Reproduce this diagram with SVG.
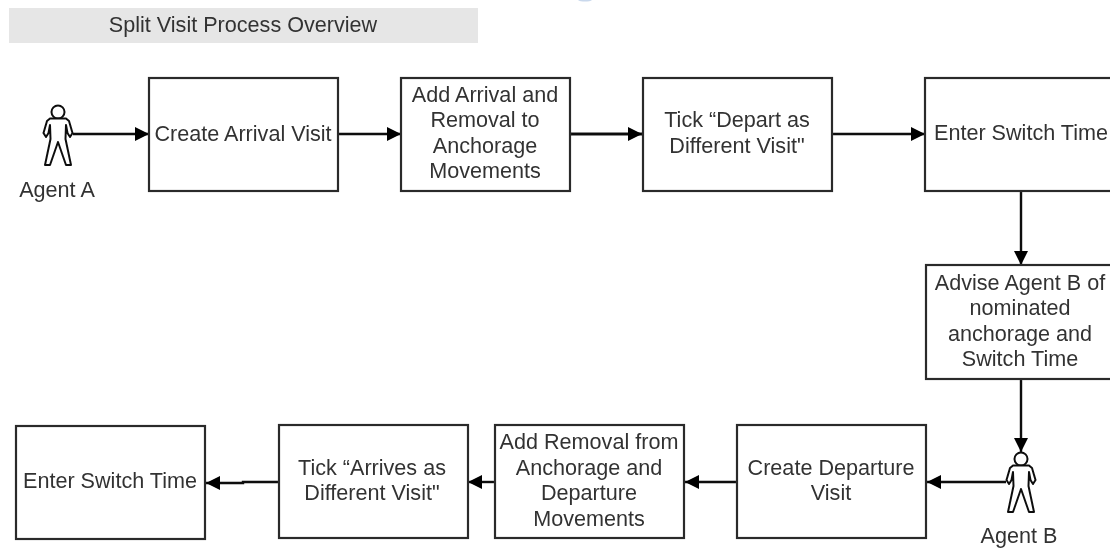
<svg xmlns="http://www.w3.org/2000/svg" width="1110" height="549" viewBox="0 0 1110 549">
<style>
text{font-family:"Liberation Sans",Arial,sans-serif;font-size:21.6px;fill:#333;text-anchor:middle}
.box{fill:#fff;stroke:#2a2a2a;stroke-width:2.2}
.c{fill:none;stroke:#111;stroke-width:2.4}
.fig{fill:#fff;stroke:#111;stroke-width:2;stroke-linejoin:round}
</style>
<defs>
<marker id="arrow" markerUnits="userSpaceOnUse" markerWidth="15" markerHeight="16" refX="14" refY="7" orient="auto"><path d="M0 0L14 7L0 14Z" fill="#000"/></marker>
<g id="person"><circle cx="0" cy="-22" r="6.500"/><path d="M-8 -15.500H8L11 -13L14.500 -1L12 3L9.500 -1L8 -9L7.500 5L13 31H8L0 8L-8 31H-13L-7.500 5L-8 -9L-9.500 -1L-12 3L-14.500 -1L-11 -13Z"/></g>
<filter id="soft" x="0" y="0" width="1110" height="549" filterUnits="userSpaceOnUse"><feGaussianBlur stdDeviation="0.45"/></filter>
</defs>
<g filter="url(#soft)">
<path d="M578 0H592C590 2 580 2 578 0Z" fill="#c9d8ec"/>
<g id="title"><rect x="9" y="8" width="469" height="35" fill="#e6e6e6"/><text x="243" y="32">Split Visit Process Overview</text></g>
<g id="connectors">
<path class="c" d="M73 134H149" marker-end="url(#arrow)"/>
<path class="c" d="M338 134H401" marker-end="url(#arrow)"/>
<path class="c" style="stroke-width:3.2" d="M570 134H642" marker-end="url(#arrow)"/>
<path class="c" d="M832 134H925" marker-end="url(#arrow)"/>
<path class="c" d="M1021 191V265" marker-end="url(#arrow)"/>
<path class="c" d="M1021 379V452" marker-end="url(#arrow)"/>
<path class="c" d="M1006 482H927" marker-end="url(#arrow)"/>
<path class="c" d="M737 482H685" marker-end="url(#arrow)"/>
<path class="c" d="M495 482H468" marker-end="url(#arrow)"/>
<path class="c" d="M279 482H243V483H206" marker-end="url(#arrow)"/>
</g>
<g id="agent-a"><use href="#person" class="fig" x="58" y="134"/><text x="57" y="197">Agent A</text></g>
<g id="create-arrival"><rect class="box" x="149" y="78" width="189" height="113"/><text x="243" y="141">Create Arrival Visit</text></g>
<g id="add-arrival"><rect class="box" x="401" y="78" width="169" height="113"/><text x="485" y="102">Add Arrival and</text><text x="485" y="127">Removal to</text><text x="485" y="153">Anchorage</text><text x="485" y="178">Movements</text></g>
<g id="tick-depart"><rect class="box" x="643" y="78" width="189" height="113"/><text x="737" y="127">Tick “Depart as</text><text x="737" y="153">Different Visit"</text></g>
<g id="enter-switch-1"><rect class="box" x="925" y="78" width="195" height="113"/><text x="1021" y="140">Enter Switch Time</text></g>
<g id="advise"><rect class="box" x="926" y="265" width="194" height="114"/><text x="1020" y="290">Advise Agent B of</text><text x="1020" y="315">nominated</text><text x="1020" y="341">anchorage and</text><text x="1020" y="366">Switch Time</text></g>
<g id="agent-b"><use href="#person" class="fig" x="1021" y="481"/><text x="1019" y="543">Agent B</text></g>
<g id="create-departure"><rect class="box" x="737" y="425" width="189" height="113"/><text x="831" y="475">Create Departure</text><text x="831" y="500">Visit</text></g>
<g id="add-removal"><rect class="box" x="495" y="425" width="189" height="113"/><text x="589" y="449">Add Removal from</text><text x="589" y="475">Anchorage and</text><text x="589" y="500">Departure</text><text x="589" y="526">Movements</text></g>
<g id="tick-arrives"><rect class="box" x="279" y="425" width="189" height="113"/><text x="372" y="475">Tick “Arrives as</text><text x="372" y="500">Different Visit"</text></g>
<g id="enter-switch-2"><rect class="box" x="16" y="426" width="189" height="113"/><text x="110" y="488">Enter Switch Time</text></g>
</g>
</svg>
